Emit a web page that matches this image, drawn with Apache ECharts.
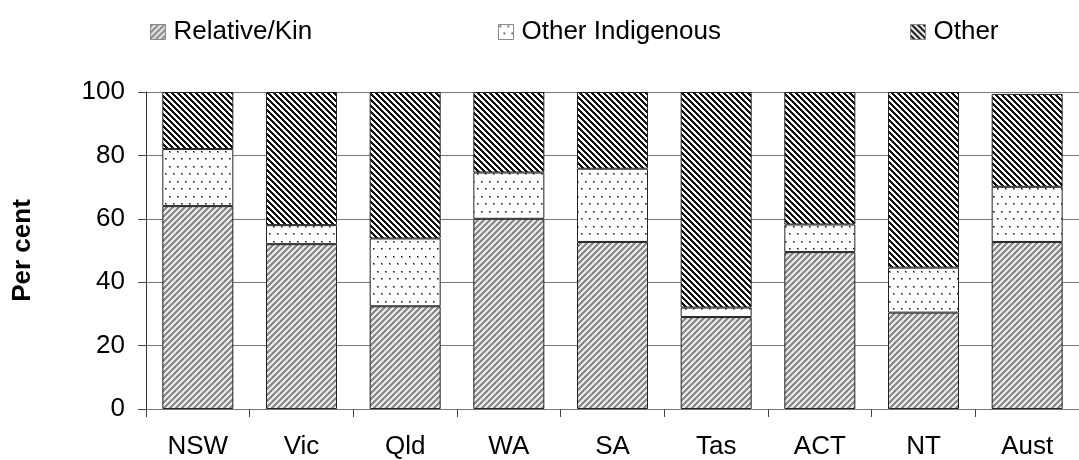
<!DOCTYPE html>
<html>
<head>
<meta charset="utf-8">
<script src="https://cdn.jsdelivr.net/npm/echarts@6/dist/echarts.min.js"></script>
<style>
html,body{margin:0;padding:0;background:#fff;}
#chart{width:1079px;height:460px;}
</style>
</head>
<body>
<div id="chart"></div>
<script>
const categories = ['NSW','Vic','Qld','WA','SA','Tas','ACT','NT','Aust'];
const relativeKin = [64, 52, 32.4, 60, 52.7, 29, 49.5, 30.4, 52.7];
const otherIndigenous = [18, 6, 21.4, 14.6, 23.1, 3, 8.7, 14.2, 17.4];
const other = [18, 42, 46.2, 25.4, 24.2, 68, 41.8, 55.4, 29.3];
const yTicks = [0, 20, 40, 60, 80, 100];

function stripes(size, on, bg, fg, dir) {
  const c = document.createElement('canvas');
  c.width = size; c.height = size;
  const ctx = c.getContext('2d');
  ctx.fillStyle = bg; ctx.fillRect(0, 0, size, size);
  ctx.fillStyle = fg;
  for (let x = 0; x < size; x++) {
    for (let y = 0; y < size; y++) {
      const k = dir > 0 ? (x + y) % size : (((x - y) % size) + size) % size;
      if (k < on) ctx.fillRect(x, y, 1, 1);
    }
  }
  return c;
}
function dots() {
  const c = document.createElement('canvas');
  c.width = 8; c.height = 15;
  const ctx = c.getContext('2d');
  ctx.fillStyle = '#fff'; ctx.fillRect(0, 0, 8, 15);
  ctx.fillStyle = '#999';
  ctx.fillRect(1, 1, 2, 2); ctx.fillRect(5, 8, 2, 2);
  ctx.fillStyle = '#111';
  ctx.fillRect(1, 1, 1, 1); ctx.fillRect(5, 8, 1, 1);
  return c;
}
const patRel = {image: stripes(6, 3, '#e8e8e8', '#8a8a8a', 1), repeat: 'repeat'};
const patDot = {image: dots(), repeat: 'repeat'};
const patOth = {image: stripes(6, 3, '#ffffff', '#111111', -1), repeat: 'repeat'};

const font = 'Liberation Sans, Arial, sans-serif';
const chart = echarts.init(document.getElementById('chart'), null, {renderer: 'canvas'});
function mkLegend(name, left) {
  return {
    data: [name], left: left, top: 14, itemWidth: 15, itemHeight: 15, itemGap: 0,
    icon: 'rect', selectedMode: false,
    itemStyle: {borderWidth: 1, borderColor: '#888'},
    textStyle: {fontFamily: font, fontSize: 26, color: '#000', padding: [0, 0, 0, 3]}
  };
}
function mkSeries(name, data, pat) {
  return {
    name: name, type: 'bar', stack: 'total', data: data, barWidth: 71,
    itemStyle: {color: pat, borderColor: '#222', borderWidth: 1},
    emphasis: {disabled: true}
  };
}
chart.setOption({
  animation: false,
  backgroundColor: '#fff',
  legend: [mkLegend('Relative/Kin', 145), mkLegend('Other Indigenous', 493), mkLegend('Other', 905)],
  grid: {left: 146, top: 92, width: 943, height: 319, containLabel: false},
  xAxis: {
    type: 'category', data: categories,
    axisLine: {lineStyle: {color: '#777', width: 1}},
    axisTick: {show: true, length: 8, lineStyle: {color: '#444'}},
    axisLabel: {fontFamily: font, fontSize: 26, color: '#000', margin: 25}
  },
  yAxis: {
    type: 'value', min: 0, max: 100, interval: 20,
    name: 'Per cent', nameLocation: 'middle', nameGap: 110, nameRotate: 90,
    nameTextStyle: {fontFamily: font, fontSize: 26, fontWeight: 'bold', color: '#000'},
    axisLine: {show: true, lineStyle: {color: '#333', width: 1}},
    axisTick: {show: true, length: 8, lineStyle: {color: '#444'}},
    axisLabel: {fontFamily: font, fontSize: 26, color: '#000', margin: 21,
      formatter: v => yTicks.includes(v) ? String(v) : ''},
    splitLine: {show: true, lineStyle: {color: '#777', width: 1}}
  },
  series: [
    mkSeries('Relative/Kin', relativeKin, patRel),
    mkSeries('Other Indigenous', otherIndigenous, patDot),
    mkSeries('Other', other, patOth)
  ]
});
</script>
</body>
</html>
